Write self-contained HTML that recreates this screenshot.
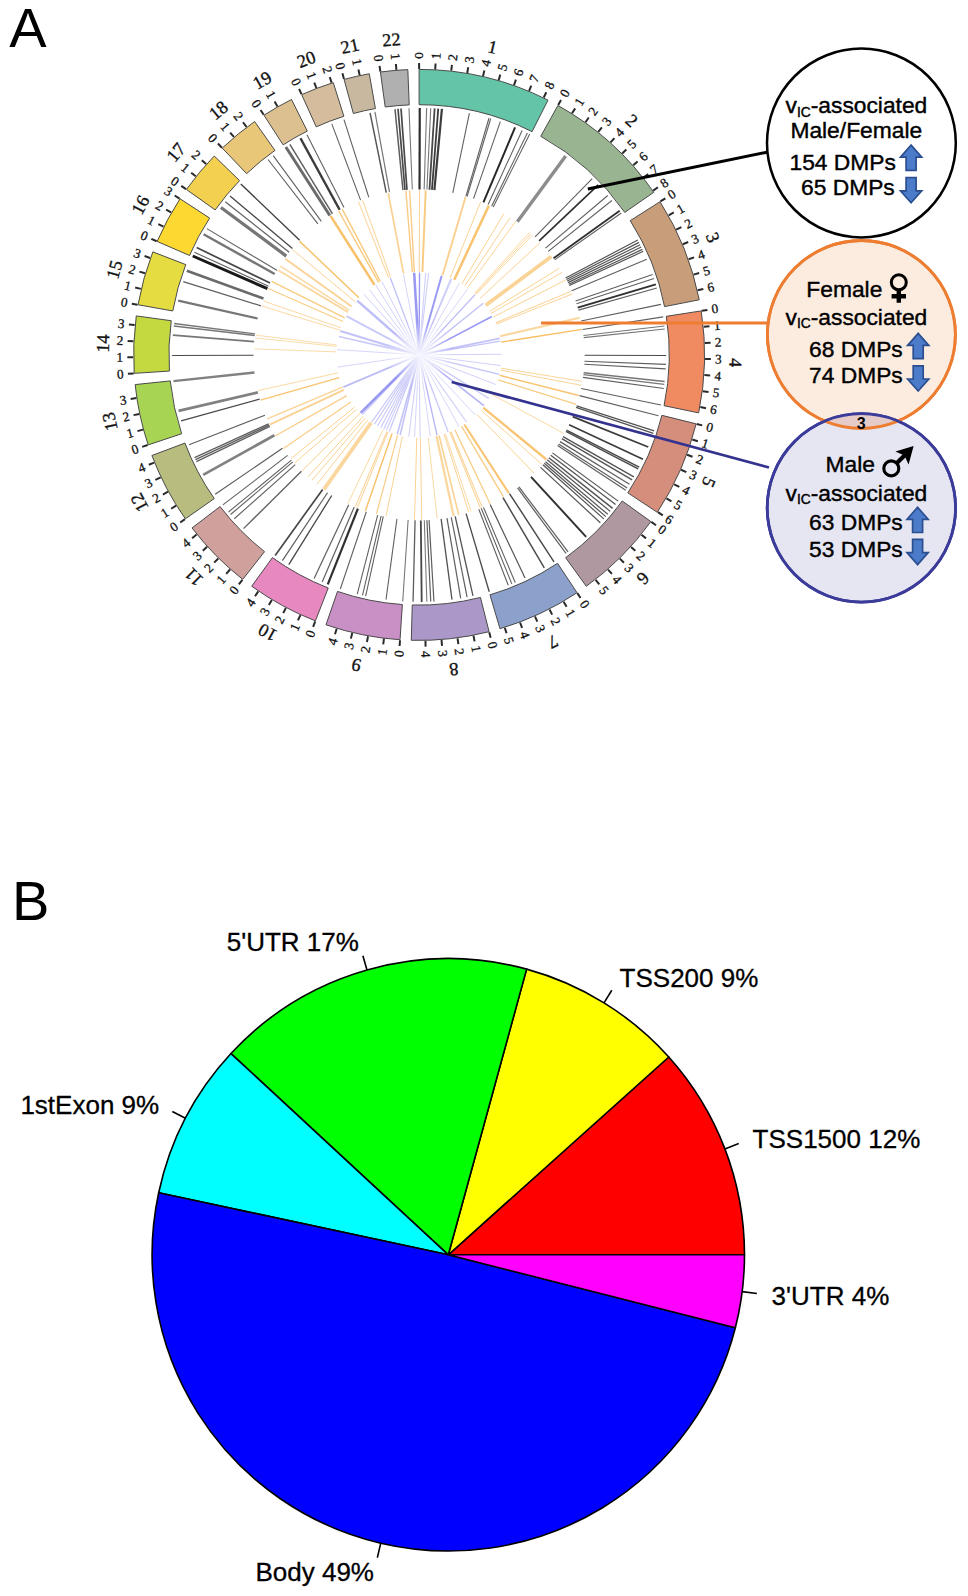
<!DOCTYPE html>
<html><head><meta charset="utf-8"><title>Figure</title>
<style>
html,body{margin:0;padding:0;background:#fff}
body{width:968px;height:1596px;overflow:hidden;font-family:"Liberation Sans",sans-serif}
svg{display:block}
</style></head><body>
<svg width="968" height="1596" viewBox="0 0 968 1596">
<defs><radialGradient id="cfade"><stop offset="0" stop-color="#fff" stop-opacity="0.95"/><stop offset="0.35" stop-color="#fff" stop-opacity="0.7"/><stop offset="1" stop-color="#fff" stop-opacity="0"/></radialGradient></defs>
<rect width="968" height="1596" fill="#fff"/>
<text x="9.2" y="46.6" font-family="'Liberation Sans', sans-serif" font-size="56" fill="#000">A</text>
<text x="12.1" y="920" font-family="'Liberation Sans', sans-serif" font-size="56" fill="#000">B</text>
<!-- circos -->
<g stroke="#7C7CF0" fill="none"><path d="M419.1 354.9L414.15 272.75" stroke-width="2.55" opacity="0.78"/>
<path d="M419.1 354.9L419.53 272.6" stroke-width="1.36" opacity="0.78"/>
<path d="M419.1 354.9L425.7 272.87" stroke-width="1.12" opacity="0.36"/>
<path d="M419.1 354.9L428.56 273.15" stroke-width="1.12" opacity="0.36"/>
<path d="M419.1 354.9L441.65 275.75" stroke-width="1.95" opacity="0.78"/>
<path d="M419.1 354.9L450.59 278.86" stroke-width="1.12" opacity="0.36"/>
<path d="M419.1 354.9L451.65 279.31" stroke-width="1.12" opacity="0.36"/>
<path d="M419.1 354.9L459.38 283.13" stroke-width="1.0" opacity="0.31"/>
<path d="M419.1 354.9L467.94 288.66" stroke-width="1.0" opacity="0.31"/>
<path d="M419.1 354.9L475.07 294.56" stroke-width="1.24" opacity="0.56"/>
<path d="M419.1 354.9L483.24 303.33" stroke-width="1.36" opacity="0.46"/>
<path d="M419.1 354.9L491.9 316.52" stroke-width="1.6" opacity="0.78"/>
<path d="M419.1 354.9L499.72 338.35" stroke-width="1.6" opacity="0.46"/>
<path d="M419.1 354.9L500.25 341.17" stroke-width="1.36" opacity="0.46"/>
<path d="M419.1 354.9L501.4 354.25" stroke-width="1.0" opacity="0.36"/>
<path d="M419.1 354.9L500.7 365.64" stroke-width="1.0" opacity="0.36"/>
<path d="M419.1 354.9L499.09 374.25" stroke-width="1.36" opacity="0.41"/>
<path d="M419.1 354.9L495.88 384.53" stroke-width="1.0" opacity="0.36"/>
<path d="M419.1 354.9L488.89 398.51" stroke-width="1.36" opacity="0.41"/>
<path d="M419.1 354.9L483.91 405.63" stroke-width="1.84" opacity="0.56"/>
<path d="M419.1 354.9L475.23 415.09" stroke-width="1.0" opacity="0.31"/>
<path d="M419.1 354.9L466.6 422.11" stroke-width="1.12" opacity="0.36"/>
<path d="M419.1 354.9L459.19 426.78" stroke-width="1.0" opacity="0.31"/>
<path d="M419.1 354.9L448.19 431.89" stroke-width="1.36" opacity="0.41"/>
<path d="M419.1 354.9L437.05 435.22" stroke-width="1.36" opacity="0.56"/>
<path d="M419.1 354.9L430.41 436.42" stroke-width="1.0" opacity="0.31"/>
<path d="M419.1 354.9L420.11 437.19" stroke-width="1.0" opacity="0.36"/>
<path d="M419.1 354.9L414.51 437.07" stroke-width="1.0" opacity="0.31"/>
<path d="M419.1 354.9L408.79 436.55" stroke-width="1.12" opacity="0.36"/>
<path d="M419.1 354.9L400.17 434.99" stroke-width="1.6" opacity="0.46"/>
<path d="M419.1 354.9L397.24 434.25" stroke-width="1.6" opacity="0.46"/>
<path d="M419.1 354.9L389.2 431.58" stroke-width="1.24" opacity="0.41"/>
<path d="M419.1 354.9L386.28 430.37" stroke-width="1.12" opacity="0.41"/>
<path d="M419.1 354.9L383.67 429.18" stroke-width="1.12" opacity="0.41"/>
<path d="M419.1 354.9L380.72 427.7" stroke-width="1.12" opacity="0.41"/>
<path d="M419.1 354.9L377.58 425.96" stroke-width="1.12" opacity="0.41"/>
<path d="M419.1 354.9L374.52 424.08" stroke-width="1.12" opacity="0.41"/>
<path d="M419.1 354.9L371.66 422.15" stroke-width="1.12" opacity="0.41"/>
<path d="M419.1 354.9L362.34 414.5" stroke-width="1.12" opacity="0.41"/>
<path d="M419.1 354.9L360.6 412.79" stroke-width="2.55" opacity="0.78"/>
<path d="M419.1 354.9L343.34 387.06" stroke-width="1.84" opacity="0.5"/>
<path d="M419.1 354.9L337.73 367.21" stroke-width="1.0" opacity="0.31"/>
<path d="M419.1 354.9L336.97 349.66" stroke-width="1.0" opacity="0.31"/>
<path d="M419.1 354.9L338.88 336.53" stroke-width="1.6" opacity="0.41"/>
<path d="M419.1 354.9L340.33 331.04" stroke-width="2.07" opacity="0.46"/>
<path d="M419.1 354.9L346.53 316.07" stroke-width="1.84" opacity="0.41"/>
<path d="M419.1 354.9L357.22 300.64" stroke-width="2.55" opacity="0.5"/>
<path d="M419.1 354.9L363.66 294.08" stroke-width="1.0" opacity="0.36"/>
<path d="M419.1 354.9L369.17 289.48" stroke-width="1.0" opacity="0.36"/>
<path d="M419.1 354.9L375.73 284.95" stroke-width="1.0" opacity="0.36"/>
<path d="M419.1 354.9L381.86 281.51" stroke-width="1.0" opacity="0.36"/>
<path d="M419.1 354.9L390.28 277.81" stroke-width="1.24" opacity="0.5"/>
<path d="M419.1 354.9L403.4 274.11" stroke-width="1.0" opacity="0.31"/></g><circle cx="419.1" cy="354.9" r="34" fill="url(#cfade)"/>
<g stroke="#F7B650" fill="none"><path d="M419.27 271.9L419.45 190.1" stroke-width="0.99" opacity="0.63"/>
<path d="M422.43 271.97L425.71 190.23" stroke-width="1.95" opacity="0.72"/>
<path d="M442.53 275.28L465.63 196.81" stroke-width="1.95" opacity="0.63"/>
<path d="M450.06 277.89L480.57 201.99" stroke-width="0.99" opacity="0.62"/>
<path d="M454.24 279.71L488.88 205.6" stroke-width="2.55" opacity="0.81"/>
<path d="M461.85 283.76L503.98 213.64" stroke-width="0.99" opacity="0.62"/>
<path d="M464.97 285.73L510.18 217.56" stroke-width="0.99" opacity="0.62"/>
<path d="M467.71 287.62L515.62 221.32" stroke-width="0.99" opacity="0.62"/>
<path d="M474.64 293.22L529.37 232.43" stroke-width="0.99" opacity="0.54"/>
<path d="M475.39 293.9L530.86 233.79" stroke-width="0.99" opacity="0.54"/>
<path d="M476.13 294.59L532.33 235.16" stroke-width="0.99" opacity="0.54"/>
<path d="M479.95 298.45L539.92 242.82" stroke-width="0.99" opacity="0.62"/>
<path d="M485.69 305.36L551.32 256.53" stroke-width="3.75" opacity="0.6"/>
<path d="M489.72 311.29L559.31 268.3" stroke-width="0.99" opacity="0.62"/>
<path d="M490.98 313.4L561.82 272.5" stroke-width="0.99" opacity="0.62"/>
<path d="M493.02 317.15L565.87 279.95" stroke-width="0.99" opacity="0.62"/>
<path d="M495.67 322.87L571.13 291.3" stroke-width="1.11" opacity="0.54"/>
<path d="M496.22 324.21L572.22 293.97" stroke-width="1.11" opacity="0.54"/>
<path d="M499.97 336.23L579.68 317.83" stroke-width="2.07" opacity="0.54"/>
<path d="M501.1 342.06L581.92 329.4" stroke-width="1.35" opacity="0.9"/>
<path d="M501.03 368.17L581.78 381.25" stroke-width="0.99" opacity="0.6"/>
<path d="M500.68 370.17L581.09 385.22" stroke-width="0.99" opacity="0.6"/>
<path d="M499.55 375.33L578.83 395.47" stroke-width="1.59" opacity="0.81"/>
<path d="M498.26 379.86L576.27 404.46" stroke-width="1.23" opacity="0.72"/>
<path d="M492.04 394.5L563.93 433.54" stroke-width="0.99" opacity="0.54"/>
<path d="M483.24 407.58L546.45 459.5" stroke-width="2.31" opacity="0.81"/>
<path d="M481.07 410.11L542.15 464.53" stroke-width="0.99" opacity="0.62"/>
<path d="M476.96 414.4L533.99 473.05" stroke-width="0.99" opacity="0.62"/>
<path d="M464.31 424.51L508.86 493.11" stroke-width="2.07" opacity="0.81"/>
<path d="M461.54 426.23L503.36 496.53" stroke-width="1.35" opacity="0.72"/>
<path d="M454.83 429.81L490.05 503.65" stroke-width="1.23" opacity="0.72"/>
<path d="M450.86 431.58L482.17 507.16" stroke-width="1.11" opacity="0.6"/>
<path d="M449.92 431.96L480.3 507.91" stroke-width="1.11" opacity="0.6"/>
<path d="M445.3 433.66L471.12 511.27" stroke-width="0.99" opacity="0.54"/>
<path d="M444.06 434.06L468.66 512.07" stroke-width="0.99" opacity="0.62"/>
<path d="M439.04 435.47L458.69 514.87" stroke-width="1.59" opacity="0.62"/>
<path d="M436.5 436.06L453.65 516.04" stroke-width="2.31" opacity="0.54"/>
<path d="M428.21 437.4L437.18 518.7" stroke-width="0.99" opacity="0.54"/>
<path d="M420.4 437.89L421.69 519.68" stroke-width="0.99" opacity="0.62"/>
<path d="M416.78 437.87L414.5 519.64" stroke-width="0.99" opacity="0.62"/>
<path d="M402.41 436.2L385.96 516.33" stroke-width="0.99" opacity="0.62"/>
<path d="M397.62 435.07L376.45 514.08" stroke-width="1.23" opacity="0.68"/>
<path d="M392.08 433.38L365.45 510.72" stroke-width="1.47" opacity="0.85"/>
<path d="M388.01 431.86L357.36 507.7" stroke-width="1.11" opacity="0.54"/>
<path d="M386.94 431.41L355.24 506.82" stroke-width="1.11" opacity="0.54"/>
<path d="M383.24 429.75L347.89 503.52" stroke-width="0.99" opacity="0.54"/>
<path d="M371.14 422.64L323.87 489.4" stroke-width="3.75" opacity="0.54"/>
<path d="M367.66 420.04L316.96 484.23" stroke-width="0.99" opacity="0.62"/>
<path d="M365.2 418.01L312.07 480.21" stroke-width="0.99" opacity="0.62"/>
<path d="M363.24 416.29L308.19 476.79" stroke-width="0.99" opacity="0.62"/>
<path d="M360.1 413.28L301.96 470.82" stroke-width="0.99" opacity="0.62"/>
<path d="M356.46 409.35L294.72 463.02" stroke-width="0.99" opacity="0.62"/>
<path d="M354.6 407.13L291.03 458.61" stroke-width="0.99" opacity="0.62"/>
<path d="M350.78 402.03L283.45 448.48" stroke-width="1.23" opacity="0.68"/>
<path d="M346.79 395.65L275.52 435.8" stroke-width="1.23" opacity="0.68"/>
<path d="M343.88 389.98L269.74 424.55" stroke-width="1.95" opacity="0.62"/>
<path d="M342.59 387.06L267.18 418.76" stroke-width="1.35" opacity="0.62"/>
<path d="M339.28 377.64L260.61 400.05" stroke-width="1.35" opacity="0.81"/>
<path d="M338.07 372.86L258.21 390.57" stroke-width="0.99" opacity="0.54"/>
<path d="M336.16 351.86L254.41 348.86" stroke-width="0.99" opacity="0.49"/>
<path d="M336.54 346.37L255.17 337.96" stroke-width="0.99" opacity="0.49"/>
<path d="M336.7 344.93L255.49 335.1" stroke-width="0.99" opacity="0.49"/>
<path d="M339.85 330.22L261.76 305.89" stroke-width="0.99" opacity="0.54"/>
<path d="M340.67 327.74L263.37 300.97" stroke-width="0.99" opacity="0.54"/>
<path d="M343.13 321.47L268.26 288.53" stroke-width="1.23" opacity="0.68"/>
<path d="M344.82 317.87L271.61 281.37" stroke-width="1.35" opacity="0.72"/>
<path d="M347.96 312.15L277.84 270.02" stroke-width="1.83" opacity="0.54"/>
<path d="M349.18 310.18L280.26 266.11" stroke-width="1.35" opacity="0.54"/>
<path d="M351.65 306.52L285.18 258.85" stroke-width="1.83" opacity="0.62"/>
<path d="M355.29 301.83L292.39 249.52" stroke-width="0.99" opacity="0.62"/>
<path d="M358.94 297.71L299.66 241.35" stroke-width="1.47" opacity="0.85"/>
<path d="M374.5 284.9L330.55 215.91" stroke-width="2.55" opacity="0.85"/>
<path d="M378.61 282.45L338.7 211.04" stroke-width="1.35" opacity="0.77"/>
<path d="M380.39 281.48L342.24 209.12" stroke-width="1.35" opacity="0.77"/>
<path d="M388.55 277.73L358.43 201.67" stroke-width="1.11" opacity="0.54"/>
<path d="M390.58 276.96L362.46 200.14" stroke-width="1.11" opacity="0.54"/>
<path d="M403.55 273.37L388.22 193.02" stroke-width="1.71" opacity="0.62"/>
<path d="M412.44 272.17L405.88 190.63" stroke-width="1.35" opacity="0.72"/>
<path d="M414.32 272.04L409.61 190.37" stroke-width="1.35" opacity="0.72"/></g>
<g stroke="#1a1a1a" fill="none"><path d="M452.8 192.87L469.4 113.08" stroke-width="1.07" opacity="0.7"/>
<path d="M465.97 196.17L489.05 118.01" stroke-width="1.07" opacity="0.7"/>
<path d="M467.07 196.51L490.7 118.5" stroke-width="1.07" opacity="0.7"/>
<path d="M473.53 198.61L500.33 121.64" stroke-width="1.07" opacity="0.7"/>
<path d="M483.42 202.41L515.09 127.32" stroke-width="1.95" opacity="0.95"/>
<path d="M488.13 204.48L522.12 130.41" stroke-width="1.07" opacity="0.7"/>
<path d="M491.65 206.15L527.38 132.9" stroke-width="1.07" opacity="0.7"/>
<path d="M493.2 206.92L529.7 134.04" stroke-width="1.07" opacity="0.7"/>
<path d="M517.31 221.69L565.67 156.09" stroke-width="3.4" opacity="0.5"/>
<path d="M535.1 236.86L592.22 178.73" stroke-width="1.07" opacity="0.7"/>
<path d="M539.15 240.98L598.27 184.88" stroke-width="1.7" opacity="0.9"/>
<path d="M545.51 248.08L607.76 195.47" stroke-width="1.07" opacity="0.7"/>
<path d="M548.26 251.42L611.87 200.47" stroke-width="1.07" opacity="0.7"/>
<path d="M553.5 258.32L619.68 210.77" stroke-width="1.82" opacity="0.9"/>
<path d="M554.59 259.85L621.31 213.05" stroke-width="1.07" opacity="0.7"/>
<path d="M565.63 277.97L637.79 240.08" stroke-width="1.2" opacity="0.75"/>
<path d="M566.43 279.51L638.98 242.38" stroke-width="1.2" opacity="0.75"/>
<path d="M567.21 281.05L640.15 244.69" stroke-width="1.2" opacity="0.75"/>
<path d="M567.98 282.61L641.29 247.01" stroke-width="1.2" opacity="0.75"/>
<path d="M568.73 284.17L642.41 249.34" stroke-width="1.2" opacity="0.75"/>
<path d="M569.34 285.48L643.32 251.3" stroke-width="1.2" opacity="0.75"/>
<path d="M571.67 290.77L646.8 259.18" stroke-width="1.07" opacity="0.7"/>
<path d="M575.58 301.02L652.64 274.48" stroke-width="1.07" opacity="0.7"/>
<path d="M576.5 303.76L654.01 278.57" stroke-width="1.07" opacity="0.7"/>
<path d="M577.7 307.62L655.81 284.33" stroke-width="1.95" opacity="0.9"/>
<path d="M578.43 310.12L656.88 288.06" stroke-width="1.07" opacity="0.7"/>
<path d="M581.1 321.06L660.88 304.39" stroke-width="1.07" opacity="0.7"/>
<path d="M582.63 329.44L663.16 316.9" stroke-width="1.07" opacity="0.7"/>
<path d="M583.47 335.59L664.41 326.08" stroke-width="1.07" opacity="0.6"/>
<path d="M583.69 337.6L664.75 329.08" stroke-width="1.07" opacity="0.6"/>
<path d="M584.6 355.33L666.1 355.55" stroke-width="1.07" opacity="0.8"/>
<path d="M584.48 361.25L665.92 364.38" stroke-width="1.07" opacity="0.7"/>
<path d="M584.33 364.28L665.7 368.9" stroke-width="1.07" opacity="0.7"/>
<path d="M583.63 372.77L664.66 381.58" stroke-width="1.45" opacity="0.6"/>
<path d="M583.42 374.64L664.34 384.36" stroke-width="1.45" opacity="0.6"/>
<path d="M583.07 377.36L663.81 388.42" stroke-width="1.07" opacity="0.7"/>
<path d="M581.16 388.46L660.97 404.99" stroke-width="1.07" opacity="0.7"/>
<path d="M579.51 395.64L658.5 415.7" stroke-width="1.07" opacity="0.7"/>
<path d="M576.59 405.77L654.14 430.82" stroke-width="1.32" opacity="0.75"/>
<path d="M576.05 407.41L653.34 433.27" stroke-width="1.32" opacity="0.75"/>
<path d="M572.66 416.63L648.28 447.03" stroke-width="1.7" opacity="0.85"/>
<path d="M569.09 424.84L642.96 459.29" stroke-width="1.7" opacity="0.85"/>
<path d="M566.56 430.04L639.18 467.04" stroke-width="1.45" opacity="0.8"/>
<path d="M565.9 431.32L638.19 468.95" stroke-width="1.45" opacity="0.8"/>
<path d="M563 436.65L633.87 476.9" stroke-width="1.32" opacity="0.75"/>
<path d="M561.85 438.65L632.14 479.89" stroke-width="1.32" opacity="0.75"/>
<path d="M560.06 441.62L629.48 484.32" stroke-width="1.2" opacity="0.7"/>
<path d="M558.53 444.07L627.19 487.98" stroke-width="1.2" opacity="0.7"/>
<path d="M557.58 445.52L625.78 490.15" stroke-width="1.2" opacity="0.7"/>
<path d="M552.48 452.88L618.16 501.13" stroke-width="1.2" opacity="0.75"/>
<path d="M550.75 455.19L615.58 504.58" stroke-width="1.2" opacity="0.75"/>
<path d="M548.8 457.7L612.67 508.32" stroke-width="1.45" opacity="0.75"/>
<path d="M547.17 459.72L610.24 511.35" stroke-width="1.2" opacity="0.75"/>
<path d="M545.51 461.72L607.76 514.33" stroke-width="1.2" opacity="0.75"/>
<path d="M544.19 463.26L605.8 516.62" stroke-width="1.2" opacity="0.75"/>
<path d="M542.86 464.78L603.81 518.89" stroke-width="1.2" opacity="0.75"/>
<path d="M540.53 467.35L600.33 522.72" stroke-width="1.2" opacity="0.75"/>
<path d="M531.02 476.82L586.13 536.86" stroke-width="1.95" opacity="0.9"/>
<path d="M518.93 486.9L568.09 551.9" stroke-width="1.2" opacity="0.7"/>
<path d="M517.54 487.94L566.02 553.45" stroke-width="1.2" opacity="0.7"/>
<path d="M509.48 493.54L553.99 561.82" stroke-width="1.45" opacity="0.8"/>
<path d="M502.97 497.57L544.28 567.83" stroke-width="1.45" opacity="0.8"/>
<path d="M490.09 504.4L525.05 578.02" stroke-width="1.2" opacity="0.75"/>
<path d="M483.5 507.36L515.21 582.43" stroke-width="1.07" opacity="0.7"/>
<path d="M481.23 508.29L511.83 583.83" stroke-width="1.07" opacity="0.7"/>
<path d="M478.81 509.25L508.22 585.26" stroke-width="1.07" opacity="0.7"/>
<path d="M466.1 513.58L489.25 591.73" stroke-width="1.32" opacity="0.8"/>
<path d="M455.2 516.41L472.98 595.95" stroke-width="1.32" opacity="0.75"/>
<path d="M451.25 517.25L467.08 597.2" stroke-width="1.2" opacity="0.7"/>
<path d="M446.98 518.03L460.72 598.37" stroke-width="1.2" opacity="0.7"/>
<path d="M441.13 518.93L451.98 599.7" stroke-width="1.32" opacity="0.75"/>
<path d="M429.06 520.1L433.96 601.45" stroke-width="1.2" opacity="0.7"/>
<path d="M426.9 520.22L430.74 601.63" stroke-width="1.2" opacity="0.7"/>
<path d="M424.3 520.32L426.86 601.78" stroke-width="1.07" opacity="0.6"/>
<path d="M420.83 520.39L421.69 601.89" stroke-width="1.82" opacity="0.8"/>
<path d="M415.06 520.35L413.07 601.83" stroke-width="1.32" opacity="0.7"/>
<path d="M408.13 520.04L402.73 601.36" stroke-width="1.07" opacity="0.6"/>
<path d="M396.93 518.91L386.01 599.67" stroke-width="1.07" opacity="0.7"/>
<path d="M383.28 516.48L365.64 596.05" stroke-width="1.07" opacity="0.7"/>
<path d="M381.17 515.99L362.49 595.32" stroke-width="1.07" opacity="0.7"/>
<path d="M377.66 515.13L357.26 594.03" stroke-width="1.07" opacity="0.7"/>
<path d="M366.31 511.76L340.32 589" stroke-width="1.07" opacity="0.7"/>
<path d="M357.91 508.67L327.77 584.4" stroke-width="2.2" opacity="0.9"/>
<path d="M354.17 507.13L322.19 582.1" stroke-width="1.2" opacity="0.7"/>
<path d="M348.76 504.71L314.13 578.48" stroke-width="1.2" opacity="0.7"/>
<path d="M331.77 495.48L288.76 564.71" stroke-width="1.32" opacity="0.8"/>
<path d="M327.51 492.75L282.41 560.63" stroke-width="1.2" opacity="0.7"/>
<path d="M322.64 489.38L275.14 555.61" stroke-width="1.7" opacity="0.8"/>
<path d="M301.46 471.31L243.53 528.64" stroke-width="1.32" opacity="0.7"/>
<path d="M295.24 464.67L234.25 518.73" stroke-width="1.07" opacity="0.7"/>
<path d="M292.79 461.83L230.58 514.49" stroke-width="1.07" opacity="0.7"/>
<path d="M291.4 460.17L228.51 512.01" stroke-width="1.07" opacity="0.7"/>
<path d="M287.62 455.42L222.88 504.92" stroke-width="1.07" opacity="0.7"/>
<path d="M282.46 448.28L215.18 494.27" stroke-width="1.2" opacity="0.7"/>
<path d="M274.42 435.26L203.17 474.84" stroke-width="2.7" opacity="0.55"/>
<path d="M269.85 426.41L196.35 461.63" stroke-width="1.32" opacity="0.7"/>
<path d="M269.23 425.11L195.42 459.68" stroke-width="1.32" opacity="0.7"/>
<path d="M268.62 423.79L194.52 457.72" stroke-width="1.32" opacity="0.7"/>
<path d="M264.96 415.15L189.05 444.82" stroke-width="1.07" opacity="0.7"/>
<path d="M259.62 399.13L181.08 420.91" stroke-width="1.2" opacity="0.8"/>
<path d="M257.91 392.41L178.53 410.88" stroke-width="2.7" opacity="0.55"/>
<path d="M254.54 372.49L173.5 381.15" stroke-width="2.45" opacity="0.55"/>
<path d="M253.6 355.33L172.1 355.55" stroke-width="1.07" opacity="0.8"/>
<path d="M254.13 341.63L172.9 335.09" stroke-width="1.7" opacity="0.6"/>
<path d="M254.73 335.59L173.79 326.08" stroke-width="1.45" opacity="0.6"/>
<path d="M254.94 333.87L174.1 323.52" stroke-width="1.45" opacity="0.6"/>
<path d="M257.65 318.52L178.14 300.6" stroke-width="2.2" opacity="0.6"/>
<path d="M261.04 305.82L183.21 281.65" stroke-width="1.2" opacity="0.7"/>
<path d="M263.48 298.57L186.85 270.83" stroke-width="2.7" opacity="0.65"/>
<path d="M267.44 288.64L192.76 256.01" stroke-width="2.95" opacity="1.0"/>
<path d="M268.56 286.14L194.43 252.27" stroke-width="1.07" opacity="0.7"/>
<path d="M270.03 283L196.63 247.59" stroke-width="1.7" opacity="0.8"/>
<path d="M274.7 274.03L203.59 234.21" stroke-width="2.45" opacity="0.6"/>
<path d="M276.87 270.28L206.83 228.61" stroke-width="1.07" opacity="0.7"/>
<path d="M286.32 256.11L220.93 207.46" stroke-width="3.2" opacity="0.6"/>
<path d="M289.22 252.33L225.26 201.81" stroke-width="1.2" opacity="0.7"/>
<path d="M292.41 248.41L230.03 195.97" stroke-width="1.32" opacity="0.8"/>
<path d="M299.65 240.35L240.83 183.94" stroke-width="1.32" opacity="0.85"/>
<path d="M317.89 223.95L268.05 159.47" stroke-width="1.07" opacity="0.7"/>
<path d="M321.35 221.35L273.22 155.58" stroke-width="1.07" opacity="0.7"/>
<path d="M329.81 215.55L285.84 146.93" stroke-width="2.95" opacity="0.65"/>
<path d="M332.5 213.86L289.86 144.41" stroke-width="1.45" opacity="0.7"/>
<path d="M339.62 209.73L300.48 138.24" stroke-width="2.45" opacity="0.85"/>
<path d="M343.96 207.44L306.96 134.82" stroke-width="1.07" opacity="0.7"/>
<path d="M360.6 200.08L331.79 123.85" stroke-width="1.07" opacity="0.7"/>
<path d="M368.78 197.23L344 119.59" stroke-width="1.07" opacity="0.7"/>
<path d="M386.25 192.69L370.07 112.82" stroke-width="1.45" opacity="0.75"/>
<path d="M389.51 192.07L374.94 111.88" stroke-width="1.2" opacity="0.6"/>
<path d="M412.31 189.54L408.97 108.11" stroke-width="1.07" opacity="0.6"/>
<path d="M419.53 189.4L419.75 107.9" stroke-width="2.2" opacity="0.9"/>
<path d="M424.15 189.48L426.64 108.02" stroke-width="1.1" opacity="0.6"/>
<path d="M426.9 189.58L430.74 108.17" stroke-width="1.1" opacity="0.6"/>
<path d="M429.49 189.73L434.61 108.39" stroke-width="1.8" opacity="0.8"/>
<path d="M431.94 189.9L438.26 108.64" stroke-width="1.8" opacity="0.85"/>
<path d="M434.39 190.11L441.92 108.96" stroke-width="2.2" opacity="0.85"/>
<path d="M402.95 190.19L395 109.08" stroke-width="1.5" opacity="0.7"/>
<path d="M404.96 190L398 108.8" stroke-width="1.7" opacity="0.8"/>
<path d="M406.98 189.84L401.01 108.56" stroke-width="1.7" opacity="0.8"/></g>
<path d="M419.1 69.4A285.5 285.5 0 0 1 547.99 100.15L532.05 131.65A250.2 250.2 0 0 0 419.1 104.7Z" fill="#64C4A8" stroke="#4a4a4a" stroke-width="1"/>
<path d="M557.95 105.44A285.5 285.5 0 0 1 653.78 192.31L624.76 212.41A250.2 250.2 0 0 0 540.78 136.28Z" fill="#98B490" stroke="#4a4a4a" stroke-width="1"/>
<path d="M660.02 201.71A285.5 285.5 0 0 1 699.23 299.79L664.59 306.6A250.2 250.2 0 0 0 630.23 220.65Z" fill="#C89E7A" stroke="#4a4a4a" stroke-width="1"/>
<path d="M701.19 310.9A285.5 285.5 0 0 1 698.65 412.87L664.09 405.7A250.2 250.2 0 0 0 666.31 316.34Z" fill="#F08A60" stroke="#4a4a4a" stroke-width="1"/>
<path d="M696.14 423.87A285.5 285.5 0 0 1 657.29 512.3L627.84 492.84A250.2 250.2 0 0 0 661.89 415.34Z" fill="#D68E7C" stroke="#4a4a4a" stroke-width="1"/>
<path d="M650.89 521.59A285.5 285.5 0 0 1 586.32 586.3L565.65 557.69A250.2 250.2 0 0 0 622.23 500.98Z" fill="#B098A0" stroke="#4a4a4a" stroke-width="1"/>
<path d="M577.05 592.73A285.5 285.5 0 0 1 499.98 628.71L489.98 594.85A250.2 250.2 0 0 0 557.52 563.32Z" fill="#8CA0CC" stroke="#4a4a4a" stroke-width="1"/>
<path d="M489.1 631.69A285.5 285.5 0 0 1 411.3 640.29L412.26 605.01A250.2 250.2 0 0 0 480.44 597.46Z" fill="#AC98C8" stroke="#4a4a4a" stroke-width="1"/>
<path d="M400.03 639.76A285.5 285.5 0 0 1 325.99 624.79L337.5 591.42A250.2 250.2 0 0 0 402.39 604.54Z" fill="#C890C4" stroke="#4a4a4a" stroke-width="1"/>
<path d="M315.4 620.9A285.5 285.5 0 0 1 251.73 586.19L272.42 557.59A250.2 250.2 0 0 0 328.22 588.01Z" fill="#E888C0" stroke="#4a4a4a" stroke-width="1"/>
<path d="M242.72 579.4A285.5 285.5 0 0 1 192.02 527.95L220.1 506.55A250.2 250.2 0 0 0 264.53 551.64Z" fill="#D0A09C" stroke="#4a4a4a" stroke-width="1"/>
<path d="M185.36 518.84A285.5 285.5 0 0 1 151.91 455.51L184.95 443.07A250.2 250.2 0 0 0 214.26 498.57Z" fill="#B8BC7E" stroke="#4a4a4a" stroke-width="1"/>
<path d="M148.15 444.88A285.5 285.5 0 0 1 135.15 384.59L170.26 380.92A250.2 250.2 0 0 0 181.65 433.75Z" fill="#A8D454" stroke="#4a4a4a" stroke-width="1"/>
<path d="M134.2 373.35A285.5 285.5 0 0 1 136.28 315.9L171.25 320.72A250.2 250.2 0 0 0 169.42 371.07Z" fill="#C4D840" stroke="#4a4a4a" stroke-width="1"/>
<path d="M138.04 304.76A285.5 285.5 0 0 1 152.84 251.86L185.76 264.6A250.2 250.2 0 0 0 172.79 310.96Z" fill="#E4DC40" stroke="#4a4a4a" stroke-width="1"/>
<path d="M157.12 241.43A285.5 285.5 0 0 1 180.06 198.79L209.62 218.09A250.2 250.2 0 0 0 189.51 255.46Z" fill="#FCD830" stroke="#4a4a4a" stroke-width="1"/>
<path d="M186.41 189.47A285.5 285.5 0 0 1 214.26 156.03L239.59 180.62A250.2 250.2 0 0 0 215.18 209.92Z" fill="#F4D050" stroke="#4a4a4a" stroke-width="1"/>
<path d="M222.27 148.09A285.5 285.5 0 0 1 254.62 121.54L274.96 150.39A250.2 250.2 0 0 0 246.61 173.66Z" fill="#E8C878" stroke="#4a4a4a" stroke-width="1"/>
<path d="M263.97 115.22A285.5 285.5 0 0 1 291.5 99.5L307.28 131.08A250.2 250.2 0 0 0 283.15 144.86Z" fill="#DCC090" stroke="#4a4a4a" stroke-width="1"/>
<path d="M301.69 94.66A285.5 285.5 0 0 1 333.26 82.61L343.88 116.28A250.2 250.2 0 0 0 316.21 126.84Z" fill="#D4BC9C" stroke="#4a4a4a" stroke-width="1"/>
<path d="M344.08 79.43A285.5 285.5 0 0 1 369.27 73.78L375.43 108.54A250.2 250.2 0 0 0 353.36 113.49Z" fill="#C8B8A0" stroke="#4a4a4a" stroke-width="1"/>
<path d="M380.41 72.03A285.5 285.5 0 0 1 407.82 69.62L409.22 104.9A250.2 250.2 0 0 0 385.2 107.01Z" fill="#B0B0B0" stroke="#4a4a4a" stroke-width="1"/>
<path d="M419.1 68.9L419.1 63.1M435.21 69.35L435.54 63.56M451.28 70.72L451.93 64.95M467.24 72.98L468.22 67.26M483.05 76.14L484.35 70.49M498.65 80.19L500.27 74.62M514.01 85.11L515.93 79.63M529.06 90.88L531.29 85.53M543.76 97.5L546.29 92.28M558.19 105L561.01 99.93M572.05 113.24L575.16 108.34M585.43 122.24L588.8 117.52M598.27 131.98L601.91 127.46M610.55 142.43L614.43 138.12M622.22 153.56L626.34 149.47M633.24 165.32L637.58 161.48M643.58 177.69L648.13 174.09M653.21 190.62L657.96 187.29M660.44 201.44L665.34 198.33M668.71 215.28L673.77 212.45M676.18 229.57L681.39 227.03M682.83 244.25L688.18 242.01M688.64 259.29L694.11 257.35M693.6 274.63L699.17 273M697.69 290.22L703.34 288.91M701.68 310.82L707.41 309.93M703.72 326.81L709.49 326.24M704.85 342.89L710.64 342.65M705.07 359.01L710.87 359.1M704.38 375.12L710.17 375.53M702.79 391.16L708.54 391.9M700.3 407.09L706 408.15M696.63 423.99L702.26 425.39M692.3 439.52L697.84 441.23M687.09 454.78L692.53 456.8M681.04 469.72L686.35 472.05M674.16 484.29L679.33 486.92M666.46 498.46L671.48 501.37M657.98 512.17L662.82 515.36M651.29 521.88L656 525.27M641.51 534.7L646.03 538.35M631.03 546.95L635.33 550.84M619.87 558.58L623.94 562.71M608.08 569.57L611.91 573.92M595.68 579.88L599.26 584.44M577.33 593.14L580.54 597.97M563.66 601.68L566.59 606.68M549.52 609.43L552.17 614.59M534.97 616.38L537.32 621.68M520.05 622.49L522.1 627.92M504.82 627.75L506.55 633.29M489.22 632.17L490.64 637.79M473.49 635.68L474.59 641.38M457.58 638.3L458.36 644.05M441.55 640.02L442.01 645.8M425.45 640.83L425.58 646.63M400 640.26L399.61 646.05M383.95 638.73L383.23 644.49M368.01 636.3L366.97 642.01M352.24 632.97L350.88 638.61M336.67 628.76L335 634.32M315.22 621.37L313.11 626.77M300.37 615.09L297.96 620.37M285.9 607.99L283.2 613.12M271.85 600.08L268.86 605.05M258.27 591.39L255.01 596.19M242.41 579.79L238.83 584.36M230.02 569.48L226.19 573.83M218.23 558.49L214.16 562.62M207.08 546.85L202.78 550.74M196.6 534.59L192.09 538.24M184.95 519.13L180.2 522.46M176.07 505.67L171.14 508.73M167.96 491.74L162.87 494.52M160.65 477.37L155.41 479.86M154.16 462.62L148.79 464.8M147.67 445.03L142.17 446.86M143.03 429.6L137.43 431.11M139.26 413.92L133.58 415.12M136.38 398.06L130.64 398.94M133.7 373.39L127.91 373.76M133.11 357.28L127.31 357.32M133.43 341.16L127.64 340.88M134.66 325.08L128.89 324.48M137.55 304.67L131.84 303.65M140.82 288.88L135.18 287.54M144.99 273.31L139.43 271.65M150.02 257.99L144.56 256.03M156.66 241.23L151.34 238.92M163.48 226.62L158.3 224.02M171.12 212.42L166.09 209.53M179.54 198.68L174.68 195.51M186.01 189.18L181.28 185.82M195.71 176.31L191.18 172.69M206.13 164.01L201.81 160.14M221.93 147.73L217.93 143.53M233.92 136.95L230.16 132.53M246.49 126.86L242.99 122.24M263.7 114.8L260.55 109.93M277.47 106.43L274.6 101.39M301.48 94.2L299.1 88.92M316.36 87.99L314.28 82.58M331.56 82.63L329.79 77.1M343.95 78.95L342.43 73.35M359.62 75.15L358.42 69.48M380.35 71.54L379.56 65.79M396.37 69.8L395.91 64.02" stroke="#2a2a2a" stroke-width="2" fill="none"/>
<g font-family="'Liberation Serif', serif" font-size="13.2" fill="#111" stroke="#111" stroke-width="0.3"><text transform="translate(419.1 58.8) rotate(-90)" text-anchor="start" dy="0.33em">0</text>
<text transform="translate(435.78 59.27) rotate(-86.77)" text-anchor="start" dy="0.33em">1</text>
<text transform="translate(452.42 60.68) rotate(-83.54)" text-anchor="start" dy="0.33em">2</text>
<text transform="translate(468.94 63.02) rotate(-80.31)" text-anchor="start" dy="0.33em">3</text>
<text transform="translate(485.31 66.3) rotate(-77.08)" text-anchor="start" dy="0.33em">4</text>
<text transform="translate(501.46 70.49) rotate(-73.85)" text-anchor="start" dy="0.33em">5</text>
<text transform="translate(517.36 75.58) rotate(-70.62)" text-anchor="start" dy="0.33em">6</text>
<text transform="translate(532.94 81.56) rotate(-67.39)" text-anchor="start" dy="0.33em">7</text>
<text transform="translate(548.16 88.41) rotate(-64.16)" text-anchor="start" dy="0.33em">8</text>
<text transform="translate(563.11 96.18) rotate(-60.9)" text-anchor="start" dy="0.33em">0</text>
<text transform="translate(577.45 104.7) rotate(-57.67)" text-anchor="start" dy="0.33em">1</text>
<text transform="translate(591.3 114.02) rotate(-54.44)" text-anchor="start" dy="0.33em">2</text>
<text transform="translate(604.6 124.11) rotate(-51.21)" text-anchor="start" dy="0.33em">3</text>
<text transform="translate(617.31 134.93) rotate(-47.98)" text-anchor="start" dy="0.33em">4</text>
<text transform="translate(629.39 146.44) rotate(-44.75)" text-anchor="start" dy="0.33em">5</text>
<text transform="translate(640.8 158.62) rotate(-41.52)" text-anchor="start" dy="0.33em">6</text>
<text transform="translate(651.51 171.43) rotate(-38.29)" text-anchor="start" dy="0.33em">7</text>
<text transform="translate(661.48 184.82) rotate(-35.06)" text-anchor="start" dy="0.33em">8</text>
<text transform="translate(668.96 196.02) rotate(-32.45)" text-anchor="start" dy="0.33em">0</text>
<text transform="translate(677.52 210.35) rotate(-29.22)" text-anchor="start" dy="0.33em">1</text>
<text transform="translate(685.25 225.14) rotate(-25.99)" text-anchor="start" dy="0.33em">2</text>
<text transform="translate(692.14 240.35) rotate(-22.76)" text-anchor="start" dy="0.33em">3</text>
<text transform="translate(698.16 255.91) rotate(-19.53)" text-anchor="start" dy="0.33em">4</text>
<text transform="translate(703.3 271.79) rotate(-16.3)" text-anchor="start" dy="0.33em">5</text>
<text transform="translate(707.53 287.94) rotate(-13.07)" text-anchor="start" dy="0.33em">6</text>
<text transform="translate(711.66 309.26) rotate(-8.87)" text-anchor="start" dy="0.33em">0</text>
<text transform="translate(713.77 325.82) rotate(-5.64)" text-anchor="start" dy="0.33em">1</text>
<text transform="translate(714.94 342.47) rotate(-2.41)" text-anchor="start" dy="0.33em">2</text>
<text transform="translate(715.17 359.16) rotate(0.82)" text-anchor="start" dy="0.33em">3</text>
<text transform="translate(714.46 375.84) rotate(4.05)" text-anchor="start" dy="0.33em">4</text>
<text transform="translate(712.81 392.44) rotate(7.28)" text-anchor="start" dy="0.33em">5</text>
<text transform="translate(710.23 408.93) rotate(10.51)" text-anchor="start" dy="0.33em">6</text>
<text transform="translate(706.43 426.43) rotate(13.98)" text-anchor="start" dy="0.33em">0</text>
<text transform="translate(701.94 442.5) rotate(17.21)" text-anchor="start" dy="0.33em">1</text>
<text transform="translate(696.56 458.3) rotate(20.44)" text-anchor="start" dy="0.33em">2</text>
<text transform="translate(690.29 473.77) rotate(23.67)" text-anchor="start" dy="0.33em">3</text>
<text transform="translate(683.16 488.86) rotate(26.9)" text-anchor="start" dy="0.33em">4</text>
<text transform="translate(675.19 503.53) rotate(30.13)" text-anchor="start" dy="0.33em">5</text>
<text transform="translate(666.41 517.72) rotate(33.36)" text-anchor="start" dy="0.33em">6</text>
<text transform="translate(659.49 527.78) rotate(35.72)" text-anchor="start" dy="0.33em">0</text>
<text transform="translate(649.37 541.05) rotate(38.95)" text-anchor="start" dy="0.33em">1</text>
<text transform="translate(638.51 553.73) rotate(42.18)" text-anchor="start" dy="0.33em">2</text>
<text transform="translate(626.96 565.78) rotate(45.41)" text-anchor="start" dy="0.33em">3</text>
<text transform="translate(614.75 577.15) rotate(48.64)" text-anchor="start" dy="0.33em">4</text>
<text transform="translate(601.92 587.82) rotate(51.87)" text-anchor="start" dy="0.33em">5</text>
<text transform="translate(582.92 601.55) rotate(56.41)" text-anchor="start" dy="0.33em">0</text>
<text transform="translate(568.76 610.39) rotate(59.64)" text-anchor="start" dy="0.33em">1</text>
<text transform="translate(554.13 618.42) rotate(62.87)" text-anchor="start" dy="0.33em">2</text>
<text transform="translate(539.06 625.61) rotate(66.1)" text-anchor="start" dy="0.33em">3</text>
<text transform="translate(523.62 631.94) rotate(69.33)" text-anchor="start" dy="0.33em">4</text>
<text transform="translate(507.84 637.39) rotate(72.56)" text-anchor="start" dy="0.33em">5</text>
<text transform="translate(491.7 641.96) rotate(75.81)" text-anchor="start" dy="0.33em">0</text>
<text transform="translate(475.41 645.6) rotate(79.04)" text-anchor="start" dy="0.33em">1</text>
<text transform="translate(458.94 648.31) rotate(82.27)" text-anchor="start" dy="0.33em">2</text>
<text transform="translate(442.34 650.09) rotate(85.5)" text-anchor="start" dy="0.33em">3</text>
<text transform="translate(425.67 650.93) rotate(88.73)" text-anchor="start" dy="0.33em">4</text>
<text transform="translate(399.32 650.34) rotate(273.83)" text-anchor="end" dy="0.33em">0</text>
<text transform="translate(382.71 648.75) rotate(277.06)" text-anchor="end" dy="0.33em">1</text>
<text transform="translate(366.21 646.24) rotate(280.29)" text-anchor="end" dy="0.33em">2</text>
<text transform="translate(349.87 642.79) rotate(283.52)" text-anchor="end" dy="0.33em">3</text>
<text transform="translate(333.76 638.44) rotate(286.75)" text-anchor="end" dy="0.33em">4</text>
<text transform="translate(311.55 630.78) rotate(291.3)" text-anchor="end" dy="0.33em">0</text>
<text transform="translate(296.18 624.28) rotate(294.53)" text-anchor="end" dy="0.33em">1</text>
<text transform="translate(281.19 616.92) rotate(297.76)" text-anchor="end" dy="0.33em">2</text>
<text transform="translate(266.65 608.74) rotate(300.99)" text-anchor="end" dy="0.33em">3</text>
<text transform="translate(252.59 599.74) rotate(304.22)" text-anchor="end" dy="0.33em">4</text>
<text transform="translate(236.17 587.74) rotate(308.15)" text-anchor="end" dy="0.33em">0</text>
<text transform="translate(223.34 577.06) rotate(311.38)" text-anchor="end" dy="0.33em">1</text>
<text transform="translate(211.14 565.68) rotate(314.61)" text-anchor="end" dy="0.33em">2</text>
<text transform="translate(199.59 553.62) rotate(317.85)" text-anchor="end" dy="0.33em">3</text>
<text transform="translate(188.74 540.94) rotate(321.08)" text-anchor="end" dy="0.33em">4</text>
<text transform="translate(176.68 524.93) rotate(324.95)" text-anchor="end" dy="0.33em">0</text>
<text transform="translate(167.49 511) rotate(328.18)" text-anchor="end" dy="0.33em">1</text>
<text transform="translate(159.09 496.57) rotate(331.41)" text-anchor="end" dy="0.33em">2</text>
<text transform="translate(151.52 481.7) rotate(334.64)" text-anchor="end" dy="0.33em">3</text>
<text transform="translate(144.8 466.42) rotate(337.87)" text-anchor="end" dy="0.33em">4</text>
<text transform="translate(138.09 448.22) rotate(341.63)" text-anchor="end" dy="0.33em">0</text>
<text transform="translate(133.28 432.23) rotate(344.86)" text-anchor="end" dy="0.33em">1</text>
<text transform="translate(129.37 416.01) rotate(348.09)" text-anchor="end" dy="0.33em">2</text>
<text transform="translate(126.39 399.58) rotate(351.32)" text-anchor="end" dy="0.33em">3</text>
<text transform="translate(123.62 374.04) rotate(356.29)" text-anchor="end" dy="0.33em">0</text>
<text transform="translate(123.01 357.36) rotate(359.52)" text-anchor="end" dy="0.33em">1</text>
<text transform="translate(123.34 340.67) rotate(362.75)" text-anchor="end" dy="0.33em">2</text>
<text transform="translate(124.61 324.03) rotate(365.98)" text-anchor="end" dy="0.33em">3</text>
<text transform="translate(127.6 302.89) rotate(370.12)" text-anchor="end" dy="0.33em">0</text>
<text transform="translate(131 286.55) rotate(373.35)" text-anchor="end" dy="0.33em">1</text>
<text transform="translate(135.31 270.43) rotate(376.58)" text-anchor="end" dy="0.33em">2</text>
<text transform="translate(140.52 254.57) rotate(379.81)" text-anchor="end" dy="0.33em">3</text>
<text transform="translate(147.39 237.21) rotate(383.42)" text-anchor="end" dy="0.33em">0</text>
<text transform="translate(154.45 222.09) rotate(386.65)" text-anchor="end" dy="0.33em">1</text>
<text transform="translate(162.36 207.39) rotate(389.88)" text-anchor="end" dy="0.33em">2</text>
<text transform="translate(171.08 193.16) rotate(393.11)" text-anchor="end" dy="0.33em">3</text>
<text transform="translate(177.77 183.33) rotate(395.41)" text-anchor="end" dy="0.33em">0</text>
<text transform="translate(187.82 170) rotate(398.64)" text-anchor="end" dy="0.33em">1</text>
<text transform="translate(198.61 157.27) rotate(401.87)" text-anchor="end" dy="0.33em">2</text>
<text transform="translate(214.97 140.41) rotate(406.42)" text-anchor="end" dy="0.33em">0</text>
<text transform="translate(227.38 129.25) rotate(409.65)" text-anchor="end" dy="0.33em">1</text>
<text transform="translate(240.4 118.81) rotate(412.88)" text-anchor="end" dy="0.33em">2</text>
<text transform="translate(258.21 106.32) rotate(417.09)" text-anchor="end" dy="0.33em">0</text>
<text transform="translate(272.47 97.65) rotate(420.32)" text-anchor="end" dy="0.33em">1</text>
<text transform="translate(297.33 85) rotate(425.72)" text-anchor="end" dy="0.33em">0</text>
<text transform="translate(312.73 78.56) rotate(428.95)" text-anchor="end" dy="0.33em">1</text>
<text transform="translate(328.47 73.01) rotate(432.18)" text-anchor="end" dy="0.33em">2</text>
<text transform="translate(341.3 69.2) rotate(434.77)" text-anchor="end" dy="0.33em">0</text>
<text transform="translate(357.52 65.27) rotate(438)" text-anchor="end" dy="0.33em">1</text>
<text transform="translate(378.98 61.53) rotate(442.21)" text-anchor="end" dy="0.33em">0</text>
<text transform="translate(395.57 59.74) rotate(445.44)" text-anchor="end" dy="0.33em">1</text></g>
<g font-family="'Liberation Serif', serif" font-size="18.2" fill="#111" stroke="#111" stroke-width="0.35"><text transform="translate(492.55 47.04) rotate(13.42)" text-anchor="middle" dy="0.34em">1</text>
<text transform="translate(631.67 120.41) rotate(42.19)" text-anchor="middle" dy="0.34em">2</text>
<text transform="translate(712.99 237.41) rotate(68.21)" text-anchor="middle" dy="0.34em">3</text>
<text transform="translate(735.5 362.77) rotate(91.42)" text-anchor="middle" dy="0.34em">4</text>
<text transform="translate(708.87 482.21) rotate(113.72)" text-anchor="middle" dy="0.34em">5</text>
<text transform="translate(643.16 578.44) rotate(134.93)" text-anchor="middle" dy="0.34em">6</text>
<text transform="translate(552.98 641.69) rotate(154.98)" text-anchor="middle" dy="0.34em">7</text>
<text transform="translate(453.9 669.48) rotate(173.69)" text-anchor="middle" dy="0.34em">8</text>
<text transform="translate(356.37 665.12) rotate(191.43)" text-anchor="middle" dy="0.34em">9</text>
<text transform="translate(267.62 632.8) rotate(208.59)" text-anchor="middle" dy="0.34em">10</text>
<text transform="translate(193.66 577.04) rotate(225.42)" text-anchor="middle" dy="0.34em">11</text>
<text transform="translate(139.23 502.7) rotate(242.16)" text-anchor="middle" dy="0.34em">12</text>
<text transform="translate(109.71 421.62) rotate(257.83)" text-anchor="middle" dy="0.34em">13</text>
<text transform="translate(102.81 343.45) rotate(272.07)" text-anchor="middle" dy="0.34em">14</text>
<text transform="translate(114.31 269.6) rotate(285.64)" text-anchor="middle" dy="0.34em">15</text>
<text transform="translate(140.38 204.93) rotate(298.28)" text-anchor="middle" dy="0.34em">16</text>
<text transform="translate(175.88 152.38) rotate(309.78)" text-anchor="middle" dy="0.34em">17</text>
<text transform="translate(218.29 110.26) rotate(320.62)" text-anchor="middle" dy="0.34em">18</text>
<text transform="translate(262.15 80.06) rotate(330.27)" text-anchor="middle" dy="0.34em">19</text>
<text transform="translate(306.24 59.2) rotate(339.11)" text-anchor="middle" dy="0.34em">20</text>
<text transform="translate(349.83 46.07) rotate(347.36)" text-anchor="middle" dy="0.34em">21</text>
<text transform="translate(391.37 39.62) rotate(354.97)" text-anchor="middle" dy="0.34em">22</text></g>
<!-- callouts -->
<g font-family="'Liberation Sans', sans-serif" font-size="22.8" fill="#000" stroke="#000" stroke-width="0.4">
<path d="M587.8 189L768 152" stroke="#000" stroke-width="3" fill="none"/>
<path d="M541 323L768 323" stroke="#ED7D31" stroke-width="2.8" fill="none"/>
<path d="M451.7 382L769 467.5" stroke="#33338F" stroke-width="2.8" fill="none"/>
<circle cx="861.4" cy="143" r="94.4" fill="#fff" stroke="#000" stroke-width="2.5"/>
<circle cx="861.4" cy="334.5" r="94" fill="#FCECE0" stroke="#ED7D31" stroke-width="2.8"/>
<circle cx="861.4" cy="507.9" r="94.2" fill="#E6E6F3" stroke="#3B3B9A" stroke-width="2.8"/>
<path d="M824.8 421.1A94 94 0 0 0 898 421.1A94.2 94.2 0 0 0 824.8 421.1Z" fill="#E6CCC8"/>
<circle cx="861.4" cy="334.5" r="94" fill="none" stroke="#ED7D31" stroke-width="2.8"/>
<circle cx="861.4" cy="507.9" r="94.2" fill="none" stroke="#3B3B9A" stroke-width="2.8"/>
<text x="861.2" y="428.6" text-anchor="middle" font-size="16" font-weight="bold" stroke="none">3</text>
<text x="785.5" y="113.1">v<tspan font-size="13.8" dy="3.5">IC</tspan><tspan dy="-3.5">-associated</tspan></text>
<text x="790.4" y="137.6">Male/Female</text>
<text x="789.5" y="169.6">154 DMPs</text>
<text x="801" y="195.3">65 DMPs</text>
<text x="806.3" y="297.3">Female</text>
<text x="785.5" y="324.8">v<tspan font-size="13.8" dy="3.5">IC</tspan><tspan dy="-3.5">-associated</tspan></text>
<text x="809" y="356.6">68 DMPs</text>
<text x="809" y="383">74 DMPs</text>
<text x="825.5" y="471.8">Male</text>
<text x="785.5" y="500.8">v<tspan font-size="13.8" dy="3.5">IC</tspan><tspan dy="-3.5">-associated</tspan></text>
<text x="809" y="530.3">63 DMPs</text>
<text x="809" y="556.6">53 DMPs</text>
</g>
<defs>
<path id="arrU" d="M0 -12.6L10.6 -0.6L5 -0.6L5 12.6L-5 12.6L-5 -0.6L-10.6 -0.6Z" fill="#4C7CC9" stroke="#2A4E8F" stroke-width="1.7" stroke-linejoin="miter"/>
</defs>
<use href="#arrU" x="911.1" y="157.7"/>
<use href="#arrU" transform="translate(911.1 190.2) scale(1 -1)"/>
<use href="#arrU" x="918.2" y="346"/>
<use href="#arrU" transform="translate(918.2 378.4) scale(1 -1)"/>
<use href="#arrU" x="917.6" y="519.9"/>
<use href="#arrU" transform="translate(917.6 552) scale(1 -1)"/>
<!-- female symbol -->
<g fill="none" stroke="#000" stroke-linecap="butt">
<circle cx="898.8" cy="282.3" r="7.5" stroke-width="3"/>
<path d="M898.8 290V302.8M891.6 296.2H906" stroke-width="4.4"/>
</g>
<!-- male symbol -->
<g fill="none" stroke="#000">
<circle cx="891.3" cy="468.4" r="7.5" stroke-width="3.1"/>
<path d="M896.9 462.9L906 454" stroke-width="4.2"/>
<path d="M913.6 446L908.6 464.6L904.4 455.4L895.4 451.4Z" fill="#000" stroke="none"/>
</g>

<!-- pie -->
<path d="M448.3 1254.8L744.5 1254.8A296.2 296.2 0 0 0 668.77 1056.99Z" fill="#FF0000" stroke="#000" stroke-width="1.6" stroke-linejoin="round"/>
<path d="M448.3 1254.8L668.77 1056.99A296.2 296.2 0 0 0 526.61 969.14Z" fill="#FFFF00" stroke="#000" stroke-width="1.6" stroke-linejoin="round"/>
<path d="M448.3 1254.8L526.61 969.14A296.2 296.2 0 0 0 230.97 1053.55Z" fill="#00FF00" stroke="#000" stroke-width="1.6" stroke-linejoin="round"/>
<path d="M448.3 1254.8L230.97 1053.55A296.2 296.2 0 0 0 158.68 1192.71Z" fill="#00FFFF" stroke="#000" stroke-width="1.6" stroke-linejoin="round"/>
<path d="M448.3 1254.8L158.68 1192.71A296.2 296.2 0 0 0 735.36 1327.81Z" fill="#0000FF" stroke="#000" stroke-width="1.6" stroke-linejoin="round"/>
<path d="M448.3 1254.8L735.36 1327.81A296.2 296.2 0 0 0 744.5 1254.8Z" fill="#FF00FF" stroke="#000" stroke-width="1.6" stroke-linejoin="round"/>
<g font-family="'Liberation Sans', sans-serif" font-size="26" fill="#000" stroke="#000" stroke-width="0.3"><path d="M724.92 1148.89L738.75 1143.6" stroke="#000" stroke-width="1.6"/>
<text x="752.58" y="1147.6" text-anchor="start">TSS1500 12%</text>
<path d="M604.01 1002.83L611.8 990.23" stroke="#000" stroke-width="1.6"/>
<text x="619.58" y="986.93" text-anchor="start">TSS200 9%</text>
<path d="M366.98 969.98L362.91 955.74" stroke="#000" stroke-width="1.6"/>
<text x="358.85" y="950.8" text-anchor="end">5'UTR 17%</text>
<path d="M185.45 1118.26L172.31 1111.43" stroke="#000" stroke-width="1.6"/>
<text x="159.16" y="1113.91" text-anchor="end">1stExon 9%</text>
<path d="M380.74 1543.19L377.36 1557.61" stroke="#000" stroke-width="1.6"/>
<text x="373.98" y="1581.33" text-anchor="end">Body 49%</text>
<path d="M742.21 1291.59L756.9 1293.43" stroke="#000" stroke-width="1.6"/>
<text x="771.6" y="1304.57" text-anchor="start">3'UTR 4%</text></g>
</svg>
</body></html>
